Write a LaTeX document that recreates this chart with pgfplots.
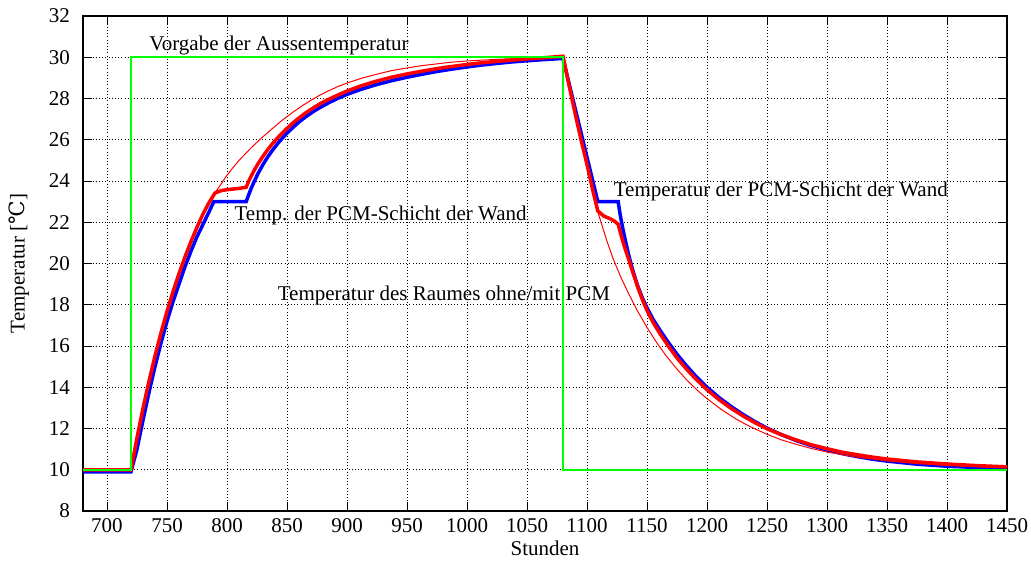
\documentclass[border=0pt]{standalone}
\usepackage{fontspec}
\setmainfont{Liberation Serif}
\newfontfamily\symfont{DejaVu Serif}
\usepackage{pgfplots}
\pgfplotsset{compat=1.18}
\definecolor{gpgreen}{RGB}{0,255,0}
\definecolor{gpred}{RGB}{255,0,0}
\definecolor{gpblue}{RGB}{0,0,255}

\begin{document}
\begin{tikzpicture}[font=\fontsize{10.5}{12.6}\selectfont]
  \begin{axis}[
    scale only axis,
    width=462pt, height=247.5pt,
    xmin=680, xmax=1450, ymin=8, ymax=32,
    xtick={700,750,...,1450},
    ytick={8,10,...,32},
    grid=major,
    grid style={black, line width=0.4pt, dash pattern=on 0.5pt off 1.1pt},
    major tick length=4.5pt,
    tick style={black, line width=0.5pt},
    axis line style={line width=0.6pt},
    /pgf/number format/assume math mode=true,
    /pgf/number format/set thousands separator={},
    yticklabel style={xshift=-3pt},
    xlabel={Stunden},
    xlabel style={yshift=2.5pt},
    ylabel={Temperatur [{\symfont ℃}]},
    ylabel style={yshift=3pt},
  ]
    % PCM-Schicht der Wand
    \addplot[gpblue, line width=1.75pt] coordinates {
      (680,9.9) (720,9.9) (725,11.0) (730,12.4) (735,13.75) (740,15.0)
      (745,16.15) (750,17.2) (755,18.15) (760,19.0) (765,19.85) (770,20.6)
      (775,21.3) (780,21.9) (785,22.5) (789,23.0) (816,23.0)
      (818,23.32) (820,23.62) (823,24.02) (826,24.38) (830,24.8) (834,25.17)
      (838,25.5) (842,25.8) (846,26.07) (850,26.32) (855,26.6) (860,26.86)
      (866,27.13) (872,27.37) (878,27.58) (884,27.77) (892,28.0) (900,28.2)
      (912,28.45) (925,28.68) (937,28.86) (950,29.03) (962,29.17) (975,29.31)
      (987,29.42) (1000,29.53) (1012,29.62) (1025,29.7) (1037,29.77)
      (1050,29.83) (1065,29.89) (1080,29.94)
      (1085,28.74) (1090,27.55) (1095,26.35) (1100,25.15) (1105,23.96)
      (1109,23.0) (1126,23.0)
      (1127,22.6) (1128,22.25) (1130,21.65) (1132,21.1) (1135,20.35)
      (1138,19.7) (1142,18.95) (1146,18.35) (1150,17.85) (1155,17.3)
      (1161,16.75) (1168,16.15) (1175,15.6) (1182,15.1) (1190,14.58)
      (1200,14.0) (1210,13.5) (1220,13.07) (1230,12.68) (1240,12.33)
      (1250,12.02) (1262,11.7) (1275,11.4) (1287,11.17) (1300,10.96)
      (1312,10.79) (1325,10.64) (1337,10.52) (1350,10.42) (1375,10.27)
      (1400,10.17) (1425,10.11) (1450,10.07)
    };
    % Raum mit PCM
    \addplot[gpred, line width=1.75pt] coordinates {
      (680,10.0) (720,10.0) (725,11.55) (730,12.98) (735,14.3) (740,15.52)
      (745,16.64) (750,17.68) (755,18.63) (760,19.51) (765,20.32) (770,21.07)
      (775,21.76) (780,22.4) (785,22.95) (790,23.42) (795,23.53) (800,23.58)
      (810,23.64) (816,23.7)
      (818,23.98) (820,24.22) (823,24.55) (826,24.85) (830,25.2) (834,25.52)
      (838,25.82) (842,26.08) (846,26.32) (850,26.55) (855,26.82) (860,27.06)
      (866,27.32) (872,27.55) (878,27.76) (884,27.94) (892,28.16) (900,28.36)
      (912,28.62) (925,28.85) (937,29.03) (950,29.19) (962,29.32) (975,29.45)
      (987,29.55) (1000,29.65) (1012,29.73) (1025,29.8) (1037,29.86)
      (1050,29.92) (1065,29.98) (1080,30.05)
      (1085,28.65) (1090,27.3) (1095,26.0) (1100,24.8) (1105,23.5)
      (1109,22.55) (1114,22.3) (1119,22.18) (1123,22.05) (1126,21.9)
      (1128,21.45) (1130,21.05) (1132,20.68) (1135,20.15) (1138,19.6)
      (1142,18.9) (1146,18.27) (1150,17.72) (1155,17.15) (1161,16.58)
      (1168,15.98) (1175,15.42) (1182,14.94) (1190,14.44) (1200,13.88)
      (1210,13.4) (1220,12.98) (1230,12.61) (1240,12.28) (1250,11.99)
      (1262,11.7) (1275,11.43) (1287,11.21) (1300,11.02) (1312,10.86)
      (1325,10.73) (1337,10.62) (1350,10.52) (1375,10.38) (1400,10.28)
      (1425,10.2) (1450,10.14)
    };
    % Raum ohne PCM
    \addplot[gpred, line width=0.5pt] coordinates {
      (680,10.0) (720,10.0) (725,11.55) (730,12.98) (735,14.3) (740,15.52)
      (745,16.64) (750,17.68) (755,18.63) (760,19.51) (765,20.32) (770,21.07)
      (775,21.76) (780,22.4) (785,22.95) (790,23.42) (795,23.85) (800,24.28)
      (805,24.65) (810,25.0) (815,25.3) (820,25.6) (825,25.88) (830,26.15)
      (835,26.4) (840,26.65) (845,26.9) (850,27.12) (856,27.38) (862,27.62)
      (869,27.88) (877,28.15) (885,28.38) (892,28.57) (900,28.75) (912,28.98)
      (925,29.18) (937,29.35) (950,29.48) (962,29.59) (975,29.68) (987,29.76)
      (1000,29.82) (1025,29.9) (1050,29.96) (1080,30.0)
      (1085,28.65) (1090,27.3) (1095,26.0) (1100,24.8) (1105,23.5)
      (1109,22.5) (1113,21.75) (1117,21.02) (1122,20.2) (1128,19.36)
      (1135,18.5) (1142,17.71) (1150,16.9) (1158,16.17) (1166,15.52)
      (1175,14.88) (1183,14.36) (1192,13.85) (1200,13.45) (1212,12.92)
      (1225,12.43) (1237,12.06) (1250,11.72) (1262,11.45) (1275,11.22)
      (1287,11.03) (1300,10.86) (1325,10.61) (1350,10.43) (1375,10.3)
      (1400,10.21) (1425,10.15) (1450,10.11)
    };
    % Aussentemperatur
    \addplot[gpgreen, line width=0.9pt] coordinates {
      (680,10) (720,10) (720,30) (1080,30) (1080,10) (1450,10)
    };

    \node[anchor=base west, inner sep=0pt] at (axis cs:735,30.35) {Vorgabe der Aussentemperatur};
    \node[anchor=base west, inner sep=0pt] at (axis cs:806,22.1) {Temp. der PCM-Schicht der Wand};
    \node[anchor=base west, inner sep=0pt] at (axis cs:1122,23.25) {Temperatur der PCM-Schicht der Wand};
    \node[anchor=base west, inner sep=0pt] at (axis cs:842,18.2) {Temperatur des Raumes ohne/mit PCM};

    \coordinate (o) at (rel axis cs:0,0);
  \end{axis}
  \pgfresetboundingbox
  \path ([shift={(-41.5pt,-28.5pt)}]o) rectangle ([shift={(474pt,255.5pt)}]o);
\end{tikzpicture}
\end{document}
